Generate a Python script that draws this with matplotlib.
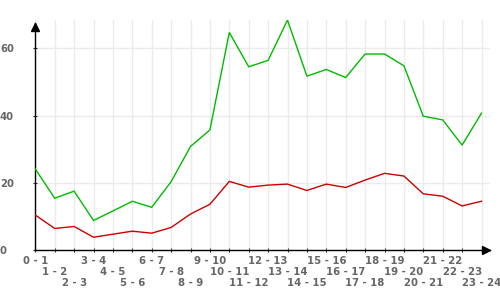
import matplotlib
matplotlib.use("Agg")
import matplotlib.pyplot as plt
import numpy as np

categories = ["0 - 1", "1 - 2", "2 - 3", "3 - 4", "4 - 5", "5 - 6", "6 - 7", "7 - 8",
              "8 - 9", "9 - 10", "10 - 11", "11 - 12", "12 - 13", "13 - 14", "14 - 15",
              "15 - 16", "16 - 17", "17 - 18", "18 - 19", "19 - 20", "20 - 21",
              "21 - 22", "22 - 23", "23 - 24"]
green_values = [24.1, 15.4, 17.5, 8.8, 11.6, 14.5, 12.7, 20.3, 30.8, 35.7, 64.7, 54.5,
                56.4, 68.4, 51.7, 53.7, 51.3, 58.3, 58.3, 54.8, 39.8, 38.7, 31.2, 40.7]
red_values = [10.4, 6.4, 7.0, 3.8, 4.7, 5.6, 5.0, 6.7, 10.7, 13.6, 20.4, 18.7,
              19.3, 19.6, 17.7, 19.6, 18.6, 20.8, 22.8, 22.0, 16.7, 16.0, 13.1, 14.5]
y_ticks = [0, 20, 40, 60]

W, H = 500, 300
fig = plt.figure(figsize=(5, 3), dpi=100)
x0, x1 = 35.3, 490.0
ytop, ybot = 20.0, 250.0
ax = fig.add_axes([x0 / W, (H - ybot) / H, (x1 - x0) / W, (ybot - ytop) / H])

x = np.arange(len(categories))
ax.plot(x, green_values, color="#00bb00", lw=1.0, solid_joinstyle="miter", zorder=3)
ax.plot(x, red_values, color="#cc0000", lw=1.0, solid_joinstyle="miter", zorder=3)

px_per_cat = 19.4
ax.set_xlim(0, (x1 - x0) / px_per_cat)
ymax = (ybot - ytop) / 3.362
ax.set_ylim(0, ymax)

ax.set_xticks(x)
ax.set_xticklabels([""] * len(categories))
ax.set_yticks(y_ticks)
ax.set_yticklabels([str(v) for v in y_ticks])

# staggered category labels (3 rows)
for i, c in enumerate(categories):
    ax.annotate(c, xy=(i, 0), xycoords=("data", "axes fraction"),
                xytext=(0, -6 - 11 * (i % 3)), textcoords="offset pixels",
                ha="center", va="top", fontsize=7.3, fontweight="bold",
                color="#666666", annotation_clip=False)

ax.grid(True, color="#ebebeb", lw=1.0, zorder=0)
ax.set_axisbelow(True)

for s in ["top", "right"]:
    ax.spines[s].set_visible(False)
for s in ["left", "bottom"]:
    ax.spines[s].set_color("black")
    ax.spines[s].set_linewidth(1.0)
ax.spines["left"].set_bounds(0, ymax - 2.5 / 3.362)

ax.tick_params(axis="both", direction="inout", length=3, width=0.8, color="#333333",
               labelcolor="#666666", labelsize=7.3)
ax.tick_params(axis="y", pad=24)
for lbl in ax.get_yticklabels():
    lbl.set_horizontalalignment("left")
    lbl.set_fontweight("bold")

# axis arrows
ax.plot([(486 - x0) / (x1 - x0)], [0], marker=">", color="black", ms=6,
        transform=ax.transAxes, clip_on=False, zorder=5)
ax.plot([0], [1 - 6.5 / (ybot - ytop)], marker="^", color="black", ms=6,
        transform=ax.transAxes, clip_on=False, zorder=5)

fig.savefig("out.png", dpi=100)
